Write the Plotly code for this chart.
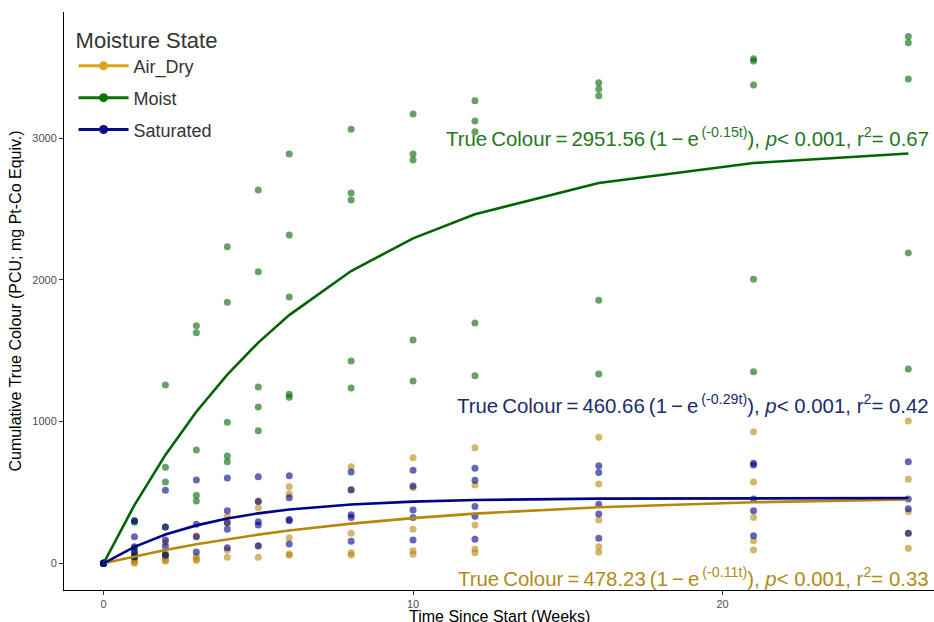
import plotly.graph_objects as go

# ---------------- data ----------------
times = [0, 1, 2, 3, 4, 5, 6, 8, 10, 12, 16, 21, 26]

air_dry_obs = [
    [0, 0, 0, 0, 0],
    [60, 35, 23, 10, 0],
    [146, 70, 40, 23, 15],
    [192, 47, 30, 20],
    [329, 287, 94, 42],
    [440, 392, 120, 42],
    [541, 489, 181, 66, 56],
    [682, 520, 212, 75, 59],
    [745, 534, 240, 89, 64],
    [816, 553, 270, 101, 75],
    [889, 560, 306, 117, 78],
    [929, 574, 324, 160, 94],
    [1004, 593, 364, 212, 106],
]
moist_obs = [
    [0, 0, 0, 0, 0],
    [298, 290, 110, 75, 45],
    [1258, 677, 574, 256, 58],
    [1676, 1627, 800, 480, 440],
    [2234, 1842, 995, 757, 717],
    [2634, 2058, 1244, 1103, 935],
    [2889, 2317, 1880, 1193, 1172],
    [3064, 2613, 2563, 1428, 1237],
    [3171, 2889, 2847, 1576, 1287],
    [3265, 3121, 3046, 1696, 1324],
    [3392, 3347, 3300, 1856, 1336],
    [3560, 3545, 3375, 2004, 1352],
    [3717, 3674, 3418, 2190, 1371],
]
saturated_obs = [
    [0, 0, 0, 0, 0],
    [300, 188, 117, 82, 47],
    [515, 256, 164, 120, 58],
    [588, 275, 188, 80],
    [602, 371, 287, 240, 110],
    [611, 437, 294, 270, 124],
    [618, 463, 310, 300, 136],
    [644, 517, 343, 324, 155],
    [656, 545, 376, 324, 164],
    [670, 586, 400, 332, 169],
    [689, 640, 416, 348, 176],
    [706, 694, 454, 371, 195],
    [717, 454, 385, 212],
]

# fitted curves evaluated at the observed times
air_dry_fit = [0, 49.8, 94.4, 134.4, 170.2, 202.3, 231.1, 279.9, 319.0, 350.5, 396.0, 430.7, 450.8]
moist_fit = [0, 411.2, 765.0, 1069.6, 1331.7, 1557.3, 1751.5, 2062.6, 2293.0, 2463.7, 2683.8, 2825.0, 2891.9]
saturated_fit = [0, 115.9, 202.7, 267.6, 316.2, 352.6, 379.8, 415.4, 435.3, 446.5, 456.2, 459.6, 460.4]

groups = ["Air_Dry", "Moist", "Saturated"]
eq_params = [("478.23", "-0.11t", "0.33"), ("2951.56", "-0.15t", "0.67"), ("460.66", "-0.29t", "0.42")]

# ---------------- style ----------------
FONT = "Liberation Sans, Arial, Helvetica, sans-serif"
line_cols = {"Air_Dry": "#B8860B", "Moist": "#006400", "Saturated": "#00008B"}
pt_cols = {"Air_Dry": "rgba(184,134,11,0.6)", "Moist": "rgba(0,100,0,0.6)", "Saturated": "rgba(0,0,139,0.6)"}
leg_cols = {"Air_Dry": "#DAA520", "Moist": "#0A720A", "Saturated": "#0A0A8B"}
txt_cols = {"Air_Dry": "#B08A1A", "Moist": "#1E781E", "Saturated": "#1C2A6E"}

obs = {"Air_Dry": air_dry_obs, "Moist": moist_obs, "Saturated": saturated_obs}
fits = {"Air_Dry": air_dry_fit, "Moist": moist_fit, "Saturated": saturated_fit}

fig = go.Figure()

# points
for g in groups:
    xs, ys = [], []
    for t, vals in zip(times, obs[g]):
        for v in vals:
            xs.append(t)
            ys.append(v)
    fig.add_trace(go.Scatter(x=xs, y=ys, mode="markers",
                             marker=dict(size=7, color=pt_cols[g], line=dict(width=0)),
                             showlegend=False, hoverinfo="skip"))

# fitted lines
for g in groups:
    fig.add_trace(go.Scatter(x=times, y=fits[g], mode="lines",
                             line=dict(color=line_cols[g], width=2.6),
                             showlegend=False, hoverinfo="skip"))

# legend entries
for g in groups:
    fig.add_trace(go.Scatter(x=[None], y=[None], mode="lines+markers", name=g,
                             legendgroup=g,
                             line=dict(color=leg_cols[g], width=3),
                             marker=dict(size=9, color=leg_cols[g])))

# equation annotations
ann_y = {"Moist": 3010, "Saturated": 1125, "Air_Dry": -97}
for g, (a, k, r2) in zip(groups, eq_params):
    txt = ("True\u2009Colour\u2009=\u2009" + a + "\u2009(1\u2009\u2212\u2009e<sup>\u2009(" + k + ")</sup>), "
           "<i>p</i>< 0.001, r<sup>2</sup>= " + r2)
    fig.add_annotation(x=1, xref="paper", xanchor="right", xshift=-3,
                       y=ann_y[g], yref="y", yanchor="middle",
                       text=txt, showarrow=False,
                       font=dict(family=FONT, size=20.4, color=txt_cols[g]))

# x-axis title (placed as annotation so it can sit in the narrow bottom margin)
fig.add_annotation(x=0.5, xref="paper", xanchor="center",
                   y=-0.045, yref="paper", yanchor="middle",
                   text="Time Since Start (Weeks)", showarrow=False,
                   font=dict(family=FONT, size=16, color="black"))

fig.update_layout(
    width=934, height=622,
    margin=dict(l=64, r=0, t=12, b=32, autoexpand=False),
    paper_bgcolor="white", plot_bgcolor="white",
    font=dict(family=FONT, color="#000000"),
    legend=dict(x=0.011, y=0.988, xanchor="left", yanchor="top",
                bgcolor="rgba(0,0,0,0)",
                title=dict(text="Moisture State", font=dict(size=22, color="#333333")),
                font=dict(size=18, color="#333333"),
                tracegroupgap=5.5, itemwidth=50),
    xaxis=dict(range=[-1.276, 26.83], tickvals=[0, 10, 20], ticktext=["0", "10", "20"],
               automargin=False,
               showgrid=False, zeroline=False, showline=True, linecolor="black", linewidth=1,
               ticks="outside", ticklen=4, tickcolor="#333333",
               tickfont=dict(size=11, color="#4D4D4D")),
    yaxis=dict(range=[-188.4, 3890.6], tickvals=[0, 1000, 2000, 3000],
               ticktext=["0", "1000", "2000", "3000"],
               automargin=False,
               showgrid=False, zeroline=False, showline=True, linecolor="black", linewidth=1,
               ticks="outside", ticklen=4, tickcolor="#333333",
               tickfont=dict(size=11, color="#4D4D4D"),
               title=dict(text="Cumulative True Colour (PCU; mg Pt-Co Equiv.)",
                          font=dict(size=16, color="black"), standoff=6)),
)

fig.write_html("out.html", config={"displayModeBar": False})

# remove the browser's default page margin so the figure sits at the window origin
with open("out.html", "r", encoding="utf-8") as f:
    html = f.read()
html = html.replace("<head>", "<head><style>html,body{margin:0;padding:0;overflow:hidden;}</style>", 1)
with open("out.html", "w", encoding="utf-8") as f:
    f.write(html)
